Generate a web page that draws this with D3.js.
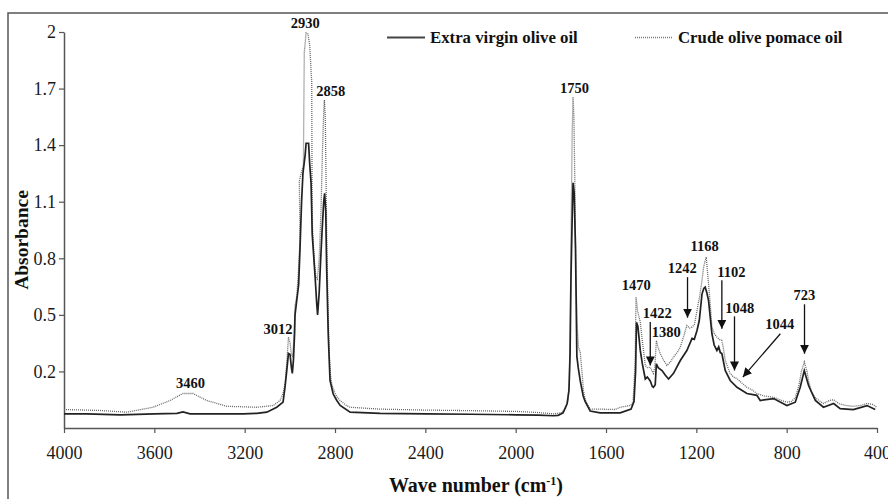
<!DOCTYPE html>
<html>
<head>
<meta charset="utf-8">
<script src="https://cdn.jsdelivr.net/npm/d3@7"></script>
<style>
  body { margin: 0; background: #fff; }
  svg { display: block; }
  text { font-family: "Liberation Serif", "Times New Roman", serif; }
</style>
</head>
<body>
<div id="chart"></div>
<script>
// spectra: [wave number, absorbance]
const evooSpectrum = [
  [4000, -0.025], [3900, -0.025], [3750, -0.03], [3600, -0.025], [3500, -0.022],
  [3473, -0.015], [3442, -0.025], [3300, -0.025], [3207, -0.025], [3146, -0.022],
  [3102, -0.016], [3058, 0.01], [3030, 0.037], [3021, 0.12], [3014, 0.2],
  [3006, 0.295], [2999, 0.29], [2993, 0.22], [2989, 0.19], [2984, 0.26],
  [2979, 0.4], [2977, 0.5], [2969, 0.58], [2961, 0.66], [2955, 0.85],
  [2948, 1.1], [2942, 1.25], [2932, 1.35], [2928, 1.41], [2917, 1.41],
  [2912, 1.3], [2906, 1.2], [2903, 1.05], [2901, 0.93], [2888, 0.7],
  [2881, 0.56], [2877, 0.5], [2870, 0.62], [2864, 0.78], [2857, 0.95],
  [2850, 1.1], [2846, 1.145], [2841, 1.05], [2837, 0.75], [2830, 0.4],
  [2822, 0.152], [2808, 0.08], [2792, 0.046], [2777, 0.02], [2733, -0.016],
  [2600, -0.022], [2400, -0.025], [2200, -0.027], [2000, -0.03], [1900, -0.032],
  [1834, -0.035], [1812, -0.033], [1790, -0.02], [1772, 0.03], [1764, 0.1],
  [1759, 0.3], [1755, 0.7], [1750, 1.0], [1746, 1.2], [1741, 1.15],
  [1735, 0.85], [1729, 0.28], [1723, 0.22], [1714, 0.15], [1701, 0.07],
  [1692, 0.04], [1670, -0.01], [1626, -0.02], [1537, -0.02], [1489, 0.0],
  [1476, 0.04], [1469, 0.2], [1465, 0.46], [1459, 0.44], [1448, 0.31],
  [1439, 0.24], [1426, 0.16], [1417, 0.17], [1404, 0.15], [1395, 0.12],
  [1390, 0.116], [1382, 0.13], [1377, 0.24], [1369, 0.22], [1352, 0.205],
  [1337, 0.18], [1323, 0.16], [1301, 0.19], [1271, 0.258], [1242, 0.311],
  [1219, 0.375], [1209, 0.37], [1197, 0.417], [1187, 0.47], [1175, 0.61],
  [1167, 0.64], [1161, 0.647], [1154, 0.62], [1146, 0.577], [1131, 0.4],
  [1121, 0.34], [1109, 0.311], [1101, 0.33], [1094, 0.3], [1087, 0.295],
  [1072, 0.205], [1050, 0.152], [1020, 0.116], [976, 0.083], [932, 0.073],
  [917, 0.046], [858, 0.056], [799, 0.019], [762, 0.037], [740, 0.116],
  [722, 0.205], [703, 0.125], [673, 0.046], [637, 0.01], [592, 0.03],
  [563, 0.003], [505, -0.002], [444, 0.019], [408, -0.002]
];

const pomaceSpectrum = [
  [4000, -0.002], [3841, -0.007], [3722, -0.016], [3606, 0.01], [3530, 0.046],
  [3486, 0.075], [3473, 0.083], [3429, 0.083], [3368, 0.046], [3279, 0.015],
  [3146, 0.01], [3074, 0.019], [3043, 0.046], [3030, 0.083], [3021, 0.136],
  [3014, 0.24], [3006, 0.382], [2999, 0.35], [2993, 0.29], [2987, 0.28],
  [2981, 0.4], [2977, 0.55], [2969, 0.6], [2961, 0.75], [2955, 0.895],
  [2958, 1.21], [2950, 1.25], [2940, 1.29], [2938, 1.6], [2936, 1.89],
  [2928, 1.995], [2920, 1.99], [2912, 1.93], [2905, 1.77], [2903, 1.74],
  [2902, 1.3], [2901, 1.0], [2898, 0.92], [2890, 0.76], [2884, 0.7],
  [2878, 0.69], [2870, 0.8], [2862, 1.05], [2856, 1.35], [2850, 1.58],
  [2847, 1.64], [2843, 1.55], [2840, 1.25], [2836, 0.85], [2830, 0.5],
  [2826, 0.3], [2820, 0.18], [2814, 0.13], [2800, 0.085], [2790, 0.063],
  [2777, 0.045], [2750, 0.02], [2733, 0.01], [2600, 0.0], [2400, -0.005],
  [2200, -0.008], [2000, -0.012], [1900, -0.018], [1834, -0.025], [1800, -0.02],
  [1780, 0.0], [1768, 0.05], [1762, 0.15], [1758, 0.5], [1754, 1.0],
  [1750, 1.45], [1746, 1.655], [1742, 1.55], [1738, 1.2], [1733, 0.7],
  [1728, 0.45], [1722, 0.33], [1714, 0.3], [1705, 0.18], [1700, 0.1],
  [1692, 0.05], [1670, 0.0], [1626, 0.0], [1560, -0.002], [1537, 0.01],
  [1490, 0.02], [1480, 0.04], [1471, 0.25], [1467, 0.594], [1460, 0.52],
  [1448, 0.46], [1440, 0.37], [1426, 0.232], [1417, 0.22], [1404, 0.222],
  [1395, 0.2], [1390, 0.189], [1384, 0.22], [1377, 0.364], [1370, 0.33],
  [1360, 0.295], [1345, 0.26], [1330, 0.232], [1315, 0.25], [1301, 0.276],
  [1285, 0.3], [1271, 0.329], [1255, 0.39], [1242, 0.444], [1230, 0.43],
  [1219, 0.435], [1208, 0.45], [1197, 0.524], [1185, 0.6], [1175, 0.683],
  [1168, 0.75], [1161, 0.789], [1156, 0.807], [1150, 0.72], [1146, 0.667],
  [1138, 0.55], [1131, 0.435], [1120, 0.4], [1109, 0.382], [1098, 0.37],
  [1087, 0.364], [1080, 0.32], [1072, 0.258], [1060, 0.22], [1050, 0.189],
  [1035, 0.17], [1020, 0.162], [1000, 0.14], [976, 0.116], [950, 0.1],
  [932, 0.083], [900, 0.07], [858, 0.063], [820, 0.045], [799, 0.037],
  [780, 0.04], [762, 0.06], [745, 0.13], [735, 0.2], [722, 0.25],
  [710, 0.2], [703, 0.15], [690, 0.09], [673, 0.06], [650, 0.04],
  [637, 0.03], [610, 0.046], [592, 0.05], [570, 0.03], [540, 0.02],
  [505, 0.015], [470, 0.02], [444, 0.03], [420, 0.025], [400, 0.01]
];

const xTicks = [4000, 3600, 3200, 2800, 2400, 2000, 1600, 1200, 800, 400];
const yTicks = [0.2, 0.5, 0.8, 1.1, 1.4, 1.7, 2];
const seriesNames = ["Extra virgin olive oil", "Crude olive pomace oil"];

// peak labels: [text, wave number, absorbance at text baseline]
const peakLabels = [
  ["2930", 2932, 2.021], ["2858", 2819, 1.66], ["1750", 1739, 1.678],
  ["3012", 3052, 0.401], ["3460", 3440, 0.111], ["1470", 1466, 0.63],
  ["1422", 1373, 0.481], ["1380", 1333, 0.382], ["1242", 1262, 0.72],
  ["1168", 1163, 0.839], ["1102", 1045, 0.7], ["1048", 1008, 0.509],
  ["1044", 831, 0.426], ["723", 722, 0.577]
];
// arrows: [from wn, from abs, to wn, to abs]
const peakArrows = [
  [1404, 0.462, 1404, 0.232], [1239, 0.7, 1239, 0.485],
  [1087, 0.683, 1087, 0.426], [1031, 0.492, 1031, 0.205],
  [828, 0.4, 994, 0.17], [721, 0.556, 721, 0.294]
];

const W = 888, H = 499;
const svg = d3.select("#chart").append("svg")
  .attr("width", W).attr("height", H);

svg.append("defs").append("marker")
  .attr("id", "head")
  .attr("viewBox", "0 0 10 10")
  .attr("refX", 10).attr("refY", 5)
  .attr("markerWidth", 9).attr("markerHeight", 9)
  .attr("markerUnits", "userSpaceOnUse")
  .attr("orient", "auto")
  .append("path").attr("d", "M0,0 L10,5 L0,10 Z").attr("fill", "#111");

// outer frame
svg.append("rect")
  .attr("x", 8).attr("y", 13).attr("width", 900).attr("height", 500)
  .attr("fill", "none").attr("stroke", "#555").attr("stroke-width", 1.5);

const x = d3.scaleLinear().domain([4000, 400]).range([64, 877]);
const y = d3.scaleLinear().domain([-0.1, 2]).range([428, 32]);

const xAxis = svg.append("g")
  .attr("transform", "translate(0,428)")
  .call(d3.axisBottom(x).tickValues(xTicks).tickFormat(d3.format("d"))
    .tickSize(5).tickSizeOuter(0).tickPadding(13));
const yAxis = svg.append("g")
  .attr("transform", "translate(64,0)")
  .call(d3.axisLeft(y).tickValues(yTicks).tickFormat(d3.format(""))
    .tickSize(5).tickSizeOuter(0).tickPadding(3));

[xAxis, yAxis].forEach(function (g) {
  g.select(".domain").attr("stroke", "#555").attr("stroke-width", 1.5);
  g.selectAll(".tick line").attr("stroke", "#555").attr("stroke-width", 1.2);
  g.selectAll(".tick text")
    .attr("font-family", "Liberation Serif, serif")
    .attr("font-size", 18).attr("fill", "#1a1a1a");
});

const line = d3.line()
  .x(function (d) { return x(d[0]); })
  .y(function (d) { return y(d[1]); });

svg.append("path")
  .datum(pomaceSpectrum)
  .attr("d", line)
  .attr("fill", "none").attr("stroke", "#666")
  .attr("stroke-width", 1.3).attr("stroke-dasharray", "1,1");

svg.append("path")
  .datum(evooSpectrum)
  .attr("d", line)
  .attr("fill", "none").attr("stroke", "#222")
  .attr("stroke-width", 1.7);

// legend
const legend = svg.append("g");
legend.append("line").attr("x1", 387).attr("x2", 425).attr("y1", 37.5).attr("y2", 37.5)
  .attr("stroke", "#444").attr("stroke-width", 2);
legend.append("text").attr("x", 430).attr("y", 43)
  .attr("font-size", 16.8).attr("font-weight", "bold").attr("fill", "#111")
  .text(seriesNames[0]);
legend.append("line").attr("x1", 635).attr("x2", 672).attr("y1", 37.5).attr("y2", 37.5)
  .attr("stroke", "#777").attr("stroke-width", 1.3).attr("stroke-dasharray", "1,1");
legend.append("text").attr("x", 678).attr("y", 43)
  .attr("font-size", 16.8).attr("font-weight", "bold").attr("fill", "#111")
  .text(seriesNames[1]);

// peak annotations
svg.append("g").selectAll("text")
  .data(peakLabels)
  .enter().append("text")
  .attr("x", function (d) { return x(d[1]); })
  .attr("y", function (d) { return y(d[2]); })
  .attr("text-anchor", "middle")
  .attr("font-size", 14.5).attr("font-weight", "bold").attr("fill", "#111")
  .text(function (d) { return d[0]; });

svg.append("g").selectAll("line")
  .data(peakArrows)
  .enter().append("line")
  .attr("x1", function (d) { return x(d[0]); })
  .attr("y1", function (d) { return y(d[1]); })
  .attr("x2", function (d) { return x(d[2]); })
  .attr("y2", function (d) { return y(d[3]); })
  .attr("stroke", "#111").attr("stroke-width", 1.3)
  .attr("marker-end", "url(#head)");

// axis titles
const xt = svg.append("text")
  .attr("x", 476).attr("y", 492)
  .attr("text-anchor", "middle")
  .attr("font-size", 20).attr("font-weight", "bold").attr("fill", "#111")
  .text("Wave number (cm");
xt.append("tspan").attr("font-size", 12).attr("dy", -7).text("-1");
xt.append("tspan").attr("dy", 7).text(")");

svg.append("text")
  .attr("transform", "translate(28,240) rotate(-90)")
  .attr("text-anchor", "middle")
  .attr("font-size", 19.5).attr("font-weight", "bold").attr("fill", "#111")
  .text("Absorbance");
</script>
</body>
</html>
